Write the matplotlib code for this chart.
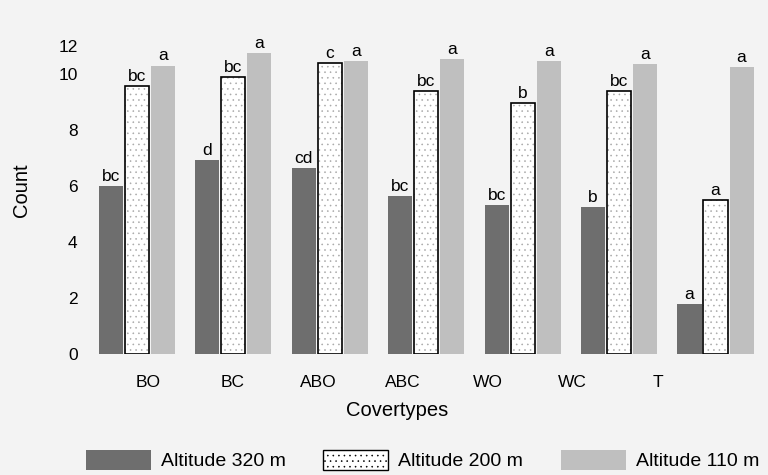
import numpy as np
import matplotlib
matplotlib.use("Agg")
from matplotlib import pyplot as plt
from matplotlib.patches import Patch

plt.rcParams['font.family'] = ['Liberation Sans', 'DejaVu Sans']
plt.rcParams['hatch.linewidth'] = 0.4

covertypes = ["BO", "BC", "ABO", "ABC", "WO", "WC", "T"]
alt_320 = [6.0, 6.93, 6.64, 5.64, 5.32, 5.25, 1.79]
alt_200 = [9.57, 9.9, 10.4, 9.39, 8.96, 9.39, 5.5]
alt_110 = [10.3, 10.75, 10.46, 10.54, 10.46, 10.36, 10.25]
letters_320 = ["bc", "d", "cd", "bc", "bc", "b", "a"]
letters_200 = ["bc", "bc", "c", "bc", "b", "bc", "a"]
letters_110 = ["a", "a", "a", "a", "a", "a", "a"]

bg = "#f3f3f3"
dark = "#6e6e6e"
light = "#bfbfbf"
fig = plt.figure(figsize=(7.68, 4.75), dpi=100, facecolor=bg)
ax = fig.add_axes([88.75 / 768, 121 / 475, 675 / 768, 336 / 475])
ax.set_facecolor(bg)

x = np.arange(len(covertypes))
w = 0.25
off = 0.27

b1 = ax.bar(x - off, alt_320, w, color=dark, edgecolor="none")
# dotted fill first, then the black outline on top
ax.bar(x, alt_200, w, color="white", edgecolor="#a8a8a8", linewidth=0,
       hatch="...")
b2 = ax.bar(x, alt_200, w, fill=False, edgecolor="black", linewidth=1.2)
b3 = ax.bar(x + off, alt_110, w, color=light, edgecolor="none")

for bars, labels in [(b1, letters_320), (b2, letters_200), (b3, letters_110)]:
    for bar, lab in zip(bars, labels):
        ax.text(bar.get_x() + bar.get_width() / 2, bar.get_height() + 0.08, lab,
                ha="center", va="bottom", fontsize=12.5)

ax.set_xlim(-0.5, 6.5)
ax.set_ylim(0, 12)

# tick labels sit a bit off the group centres in the original
ax.set_xticks(0.114 + 0.881 * x, covertypes)
ax.set_yticks([0, 2, 4, 6, 8, 10, 11], ["0", "2", "4", "6", "8", "10", "12"])
ax.tick_params(length=0, labelsize=12.5)
ax.tick_params(axis="x", pad=15)
ax.tick_params(axis="y", pad=8)
for s in ax.spines.values():
    s.set_visible(False)

fig.text(22 / 768, 1 - 190 / 475, "Count", rotation=90, ha="center", va="center",
         fontsize=14.5)
fig.text(397 / 768, 1 - 410 / 475, "Covertypes", ha="center", va="center",
         fontsize=14.5)

handles = [Patch(facecolor=dark, edgecolor="none"),
           Patch(facecolor="white", edgecolor="black", hatch="..."),
           Patch(facecolor=light, edgecolor="none")]
fig.legend(handles, ["Altitude 320 m", "Altitude 200 m", "Altitude 110 m"],
           loc="center left", bbox_to_anchor=(86 / 768, 1 - 460 / 475), ncol=3,
           frameon=False, fontsize=14, handlelength=3.34, handleheight=1.23,
           columnspacing=1.95, handletextpad=0.5, borderpad=0,
           borderaxespad=0)

plt.savefig("out.png", dpi=100, facecolor=bg)
